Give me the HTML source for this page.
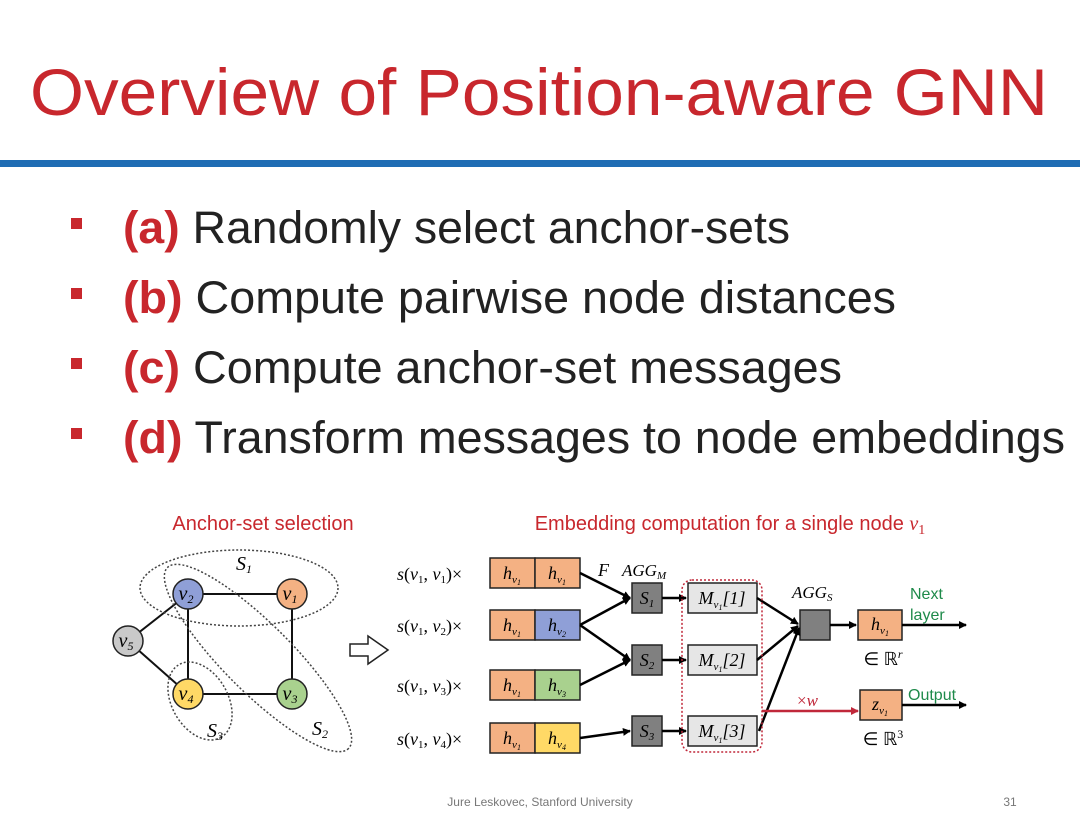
<!DOCTYPE html>
<html><head><meta charset="utf-8"><style>
body{margin:0;width:1080px;height:810px;background:#fff;overflow:hidden}
text{font-family:"Liberation Sans",sans-serif}
.m{font-family:"Liberation Serif",serif;font-style:italic}
.u{font-family:"Liberation Serif",serif}
</style></head><body>
<svg width="1080" height="810" viewBox="0 0 1080 810" xmlns="http://www.w3.org/2000/svg">
<defs>
<marker id="a" markerWidth="8" markerHeight="8" refX="7" refY="4" orient="auto" markerUnits="userSpaceOnUse"><path d="M0,0L8,4L0,8z" fill="#000"/></marker>
<marker id="r" markerWidth="8" markerHeight="8" refX="7" refY="4" orient="auto" markerUnits="userSpaceOnUse"><path d="M0,0L8,4L0,8z" fill="#c0283a"/></marker>
</defs>
<text x="30" y="115" font-size="66" fill="#c8272d" textLength="1018" lengthAdjust="spacingAndGlyphs">Overview of Position-aware GNN</text>
<rect x="0" y="160" width="1080" height="7" fill="#1f6db4"/>
<g font-size="45" fill="#222">
<rect x="71" y="218" width="11" height="11" fill="#c8272d"/>
<text x="123" y="243" textLength="667" lengthAdjust="spacingAndGlyphs"><tspan font-weight="bold" fill="#c8272d">(a)</tspan> Randomly select anchor-sets</text>
<rect x="71" y="288" width="11" height="11" fill="#c8272d"/>
<text x="123" y="313" textLength="773" lengthAdjust="spacingAndGlyphs"><tspan font-weight="bold" fill="#c8272d">(b)</tspan> Compute pairwise node distances</text>
<rect x="71" y="358" width="11" height="11" fill="#c8272d"/>
<text x="123" y="383" textLength="719" lengthAdjust="spacingAndGlyphs"><tspan font-weight="bold" fill="#c8272d">(c)</tspan> Compute anchor-set messages</text>
<rect x="71" y="428" width="11" height="11" fill="#c8272d"/>
<text x="123" y="453" textLength="942" lengthAdjust="spacingAndGlyphs"><tspan font-weight="bold" fill="#c8272d">(d)</tspan> Transform messages to node embeddings</text>
</g>
<text x="263" y="530" font-size="20" fill="#c8272d" text-anchor="middle">Anchor-set selection</text>
<text x="730" y="530" font-size="20" fill="#c8272d" text-anchor="middle">Embedding computation for a single node <tspan class="m" fill="#c8272d">v</tspan><tspan class="u" font-size="14" dy="4">1</tspan></text>
<g stroke="#111" stroke-width="2">
<line x1="188" y1="594" x2="292" y2="594"/><line x1="188" y1="594" x2="188" y2="694"/>
<line x1="292" y1="594" x2="292" y2="694"/><line x1="188" y1="694" x2="292" y2="694"/>
<line x1="128" y1="641" x2="188" y2="594"/><line x1="128" y1="641" x2="188" y2="694"/>
</g>
<g fill="none" stroke="#444" stroke-width="1.5" stroke-dasharray="2,2">
<ellipse cx="239" cy="588" rx="99" ry="38"/>
<ellipse cx="258" cy="658" rx="128" ry="34" transform="rotate(45 258 658)"/>
<ellipse cx="200" cy="701" rx="42" ry="28" transform="rotate(60 200 701)"/>
</g>
<g stroke="#222" stroke-width="1.5">
<circle cx="188" cy="594" r="15" fill="#8f9fd7"/><circle cx="292" cy="594" r="15" fill="#f4b183"/>
<circle cx="128" cy="641" r="15" fill="#c9c9c9"/><circle cx="188" cy="694" r="15" fill="#ffd966"/>
<circle cx="292" cy="694" r="15" fill="#a9d18e"/>
</g>
<g font-size="20" text-anchor="middle" class="m">
<text x="186" y="600" class="m">v<tspan font-size="12" dy="3" class="u">2</tspan></text>
<text x="290" y="600" class="m">v<tspan font-size="12" dy="3" class="u">1</tspan></text>
<text x="126" y="647" class="m">v<tspan font-size="12" dy="3" class="u">5</tspan></text>
<text x="186" y="700" class="m">v<tspan font-size="12" dy="3" class="u">4</tspan></text>
<text x="290" y="700" class="m">v<tspan font-size="12" dy="3" class="u">3</tspan></text>
<text x="244" y="570" class="m">S<tspan font-size="12" dy="3" class="u">1</tspan></text>
<text x="320" y="735" class="m">S<tspan font-size="12" dy="3" class="u">2</tspan></text>
<text x="215" y="737" class="m">S<tspan font-size="12" dy="3" class="u">3</tspan></text>
</g>
<path d="M350,644h18v-8l20,14l-20,14v-8h-18z" fill="#fff" stroke="#222" stroke-width="1.5"/>
<g font-size="18" class="u">
<text x="397" y="580" class="u"><tspan class="m">s</tspan>(<tspan class="m">v</tspan><tspan font-size="11" dy="3">1</tspan><tspan dy="-3">, </tspan><tspan class="m">v</tspan><tspan font-size="11" dy="3">1</tspan><tspan dy="-3">)×</tspan></text>
<text x="397" y="632" class="u"><tspan class="m">s</tspan>(<tspan class="m">v</tspan><tspan font-size="11" dy="3">1</tspan><tspan dy="-3">, </tspan><tspan class="m">v</tspan><tspan font-size="11" dy="3">2</tspan><tspan dy="-3">)×</tspan></text>
<text x="397" y="692" class="u"><tspan class="m">s</tspan>(<tspan class="m">v</tspan><tspan font-size="11" dy="3">1</tspan><tspan dy="-3">, </tspan><tspan class="m">v</tspan><tspan font-size="11" dy="3">3</tspan><tspan dy="-3">)×</tspan></text>
<text x="397" y="745" class="u"><tspan class="m">s</tspan>(<tspan class="m">v</tspan><tspan font-size="11" dy="3">1</tspan><tspan dy="-3">, </tspan><tspan class="m">v</tspan><tspan font-size="11" dy="3">4</tspan><tspan dy="-3">)×</tspan></text>
</g>
<g stroke="#222" stroke-width="1.5">
<rect x="490" y="558" width="45" height="30" fill="#f4b183"/><rect x="535" y="558" width="45" height="30" fill="#f4b183"/>
<rect x="490" y="610" width="45" height="30" fill="#f4b183"/><rect x="535" y="610" width="45" height="30" fill="#8f9fd7"/>
<rect x="490" y="670" width="45" height="30" fill="#f4b183"/><rect x="535" y="670" width="45" height="30" fill="#a9d18e"/>
<rect x="490" y="723" width="45" height="30" fill="#f4b183"/><rect x="535" y="723" width="45" height="30" fill="#ffd966"/>
<rect x="632" y="583" width="30" height="30" fill="#808080"/>
<rect x="632" y="645" width="30" height="30" fill="#808080"/>
<rect x="632" y="716" width="30" height="30" fill="#808080"/>
<rect x="688" y="583" width="69" height="30" fill="#e6e6e6"/>
<rect x="688" y="645" width="69" height="30" fill="#e6e6e6"/>
<rect x="688" y="716" width="69" height="30" fill="#e6e6e6"/>
<rect x="800" y="610" width="30" height="30" fill="#808080"/>
<rect x="858" y="610" width="44" height="30" fill="#f4b183"/>
<rect x="860" y="690" width="42" height="30" fill="#f4b183"/>
</g>
<g font-size="18" text-anchor="middle">
<text x="512" y="579" class="m">h<tspan font-size="11" dy="4">v</tspan><tspan font-size="8" dy="2" class="u">1</tspan></text>
<text x="557" y="579" class="m">h<tspan font-size="11" dy="4">v</tspan><tspan font-size="8" dy="2" class="u">1</tspan></text>
<text x="512" y="631" class="m">h<tspan font-size="11" dy="4">v</tspan><tspan font-size="8" dy="2" class="u">1</tspan></text>
<text x="557" y="631" class="m">h<tspan font-size="11" dy="4">v</tspan><tspan font-size="8" dy="2" class="u">2</tspan></text>
<text x="512" y="691" class="m">h<tspan font-size="11" dy="4">v</tspan><tspan font-size="8" dy="2" class="u">1</tspan></text>
<text x="557" y="691" class="m">h<tspan font-size="11" dy="4">v</tspan><tspan font-size="8" dy="2" class="u">3</tspan></text>
<text x="512" y="744" class="m">h<tspan font-size="11" dy="4">v</tspan><tspan font-size="8" dy="2" class="u">1</tspan></text>
<text x="557" y="744" class="m">h<tspan font-size="11" dy="4">v</tspan><tspan font-size="8" dy="2" class="u">4</tspan></text>
<text x="647" y="604" class="m">S<tspan font-size="11" dy="3" class="u">1</tspan></text>
<text x="647" y="666" class="m">S<tspan font-size="11" dy="3" class="u">2</tspan></text>
<text x="647" y="737" class="m">S<tspan font-size="11" dy="3" class="u">3</tspan></text>
<text x="722" y="604" class="m">M<tspan font-size="11" dy="4">v</tspan><tspan font-size="8" dy="2" class="u">1</tspan><tspan class="u" font-size="18" dy="-6">[1]</tspan></text>
<text x="722" y="666" class="m">M<tspan font-size="11" dy="4">v</tspan><tspan font-size="8" dy="2" class="u">1</tspan><tspan class="u" font-size="18" dy="-6">[2]</tspan></text>
<text x="722" y="737" class="m">M<tspan font-size="11" dy="4">v</tspan><tspan font-size="8" dy="2" class="u">1</tspan><tspan class="u" font-size="18" dy="-6">[3]</tspan></text>
<text x="880" y="630" class="m">h<tspan font-size="11" dy="4">v</tspan><tspan font-size="8" dy="2" class="u">1</tspan></text>
<text x="880" y="710" class="m">z<tspan font-size="11" dy="4">v</tspan><tspan font-size="8" dy="2" class="u">1</tspan></text>
<text x="883" y="665" class="u">∈ ℝ<tspan font-size="12" dy="-7" class="m">r</tspan></text>
<text x="883" y="745" class="u">∈ ℝ<tspan font-size="12" dy="-7">3</tspan></text>
</g>
<text x="598" y="576" font-size="18" class="m">F</text>
<text x="622" y="576" font-size="17" class="m">AGG<tspan font-size="11" dy="3">M</tspan></text>
<text x="792" y="598" font-size="17" class="m">AGG<tspan font-size="11" dy="3">S</tspan></text>
<text x="910" y="599" font-size="16" fill="#1e8a4a">Next</text>
<text x="910" y="620" font-size="16" fill="#1e8a4a">layer</text>
<text x="908" y="700" font-size="16" fill="#1e8a4a">Output</text>
<text x="797" y="706" font-size="17" fill="#c0283a" class="u">×<tspan class="m" fill="#c0283a">w</tspan></text>
<g stroke="#000" stroke-width="2.5" fill="none">
<line x1="580" y1="573" x2="630" y2="598" marker-end="url(#a)"/>
<line x1="580" y1="625" x2="630" y2="598" marker-end="url(#a)"/>
<line x1="580" y1="625" x2="630" y2="660" marker-end="url(#a)"/>
<line x1="580" y1="685" x2="630" y2="660" marker-end="url(#a)"/>
<line x1="580" y1="738" x2="630" y2="731" marker-end="url(#a)"/>
<line x1="662" y1="598" x2="686" y2="598" marker-end="url(#a)"/>
<line x1="662" y1="660" x2="686" y2="660" marker-end="url(#a)"/>
<line x1="662" y1="731" x2="686" y2="731" marker-end="url(#a)"/>
<line x1="757" y1="598" x2="798" y2="624" marker-end="url(#a)"/>
<line x1="757" y1="660" x2="798" y2="626" marker-end="url(#a)"/>
<line x1="759" y1="731" x2="799" y2="628" marker-end="url(#a)"/>
<line x1="830" y1="625" x2="856" y2="625" marker-end="url(#a)"/>
<line x1="902" y1="625" x2="966" y2="625" marker-end="url(#a)"/>
<line x1="902" y1="705" x2="966" y2="705" marker-end="url(#a)"/>
</g>
<line x1="762" y1="711" x2="858" y2="711" stroke="#c0283a" stroke-width="2.5" marker-end="url(#r)"/>
<rect x="682" y="580" width="80" height="172" rx="10" fill="none" stroke="#c0283a" stroke-width="1.5" stroke-dasharray="2,2"/>
<text x="540" y="806" font-size="12" fill="#777" text-anchor="middle">Jure Leskovec, Stanford University</text>
<text x="1010" y="806" font-size="12" fill="#777" text-anchor="middle">31</text>
</svg>
</body></html>
